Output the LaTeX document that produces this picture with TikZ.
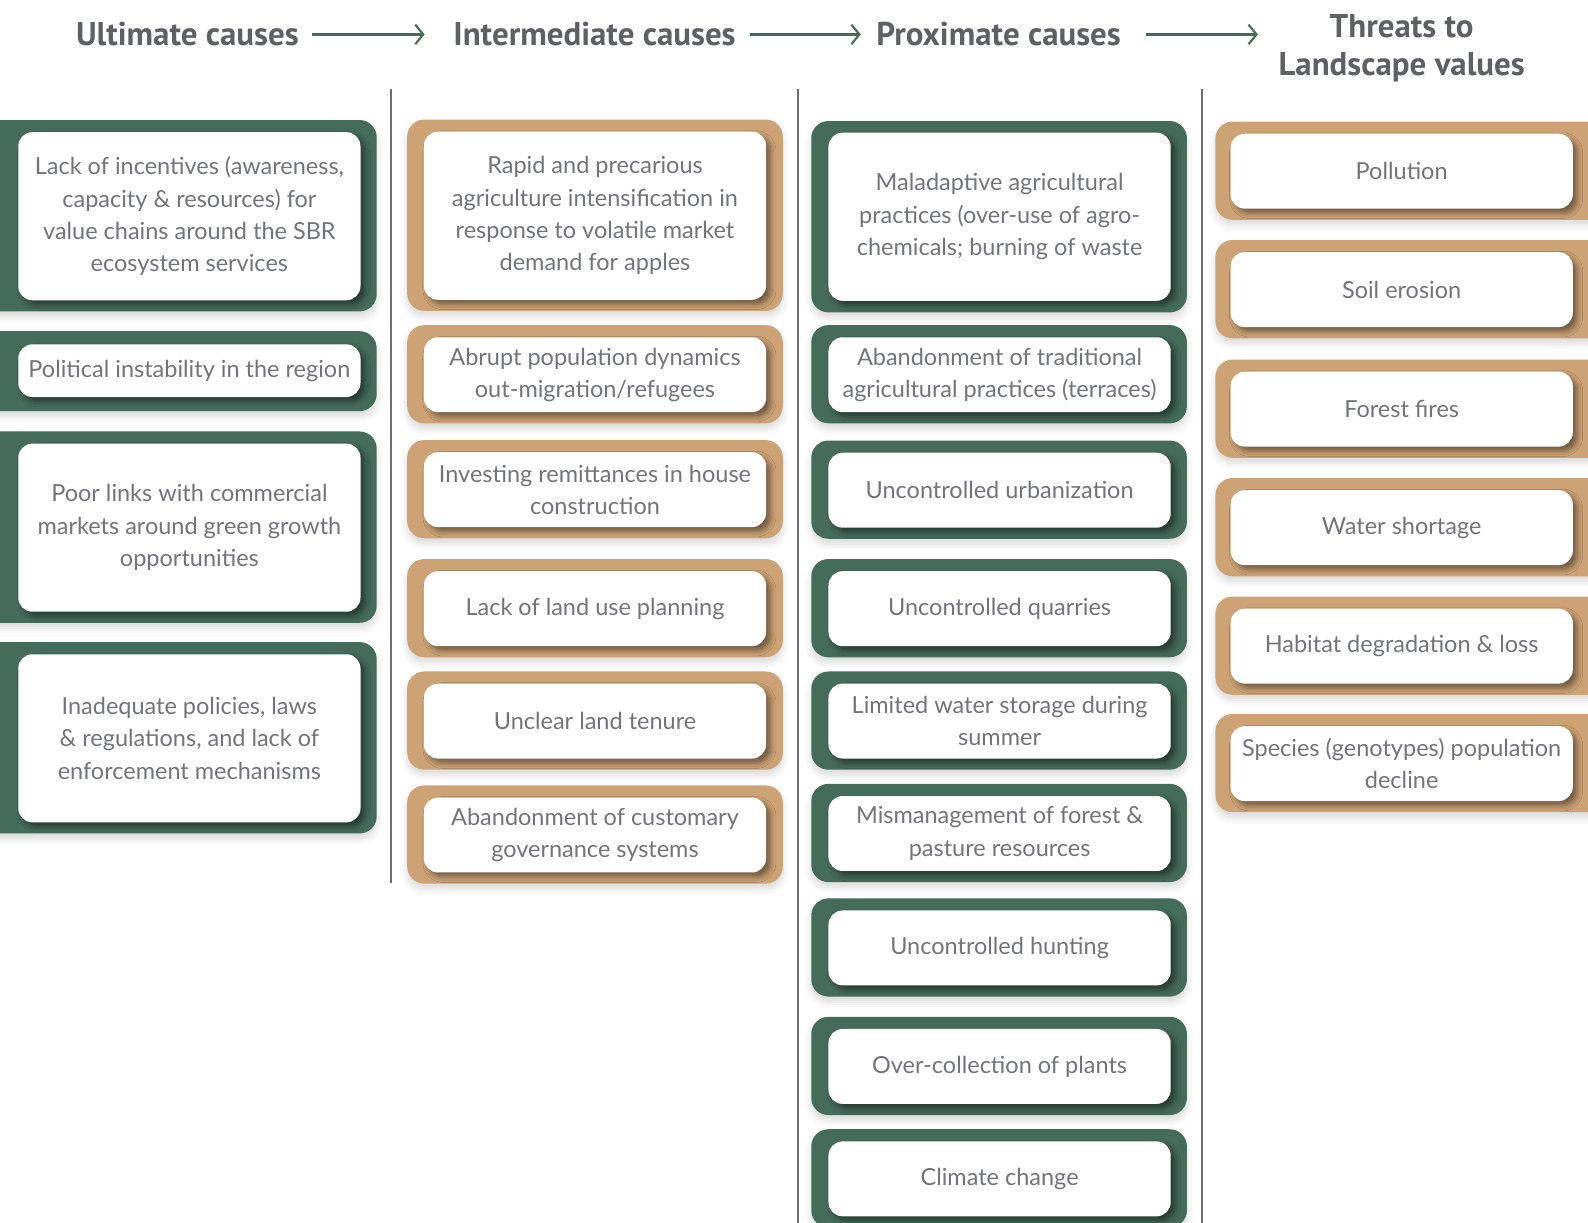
\documentclass[tikz,border=0pt]{standalone}
\usepackage{fontspec}
\setmainfont{Lato}
\newfontfamily\headfont{PT Sans}
\usetikzlibrary{arrows.meta,shadows.blur}

\definecolor{framegreen}{HTML}{456B5B}
\definecolor{frametan}{HTML}{CDA375}
\definecolor{textgray}{HTML}{737477}
\definecolor{headgray}{HTML}{5F6063}
\definecolor{rulegray}{HTML}{6E6E6E}

\tikzset{
  band/.style={rounded corners=0.34cm, inner sep=0pt, minimum width=7.42cm,
    blur shadow={shadow xshift=0pt, shadow yshift=-3pt, shadow opacity=15, shadow blur radius=4pt}},
  gband/.style={band, fill=framegreen},
  tband/.style={band, fill=frametan},
  tallband/.style={minimum height=3.78cm},
  lowband/.style={minimum height=1.94cm},
  card/.style={fill=white, rounded corners=0.28cm, inner sep=0pt, minimum width=6.76cm,
    align=center, text=textgray, font=\fontsize{13.2}{18.2}\selectfont,
    blur shadow={shadow xshift=2.5pt, shadow yshift=-2.5pt, shadow opacity=45, shadow blur radius=3pt}},
  tallcard/.style={minimum height=3.32cm},
  lowcard/.style={minimum height=1.48cm},
  headline/.style={text=headgray, font=\headfont\bfseries\fontsize{18.5}{21.5}\selectfont,
    align=center, inner sep=0pt},
  flow/.style={draw=framegreen, line width=1.2pt,
    -{Straight Barb[length=4.5pt,width=11pt,line width=1.2pt]}},
  divider/.style={draw=rulegray, line width=1.1pt}
}

\begin{document}
\begin{tikzpicture}[x=0.02cm,y=-0.02cm]
  \useasboundingbox (0,0) rectangle (1568,1207);

  % headings
  \node[headline] (hu) at (185,34) {Ultimate causes};
  \node[headline] (hi) at (587,34) {Intermediate causes};
  \node[headline] (hp) at (986,34) {Proximate causes};
  \node[headline] (ht) at (1384,48) {Threats to\\Landscape values};
  \draw[flow, shorten <=0.26cm, shorten >=0.56cm] (hu) -- (hi);
  \draw[flow, shorten <=0.28cm, shorten >=0.3cm] (hi) -- (hp);
  \draw[flow, shorten <=0.5cm, shorten >=0.4cm] (hp.east) -- (hp.east -| ht.west);

  % column rules
  \draw[divider] (386,88) -- (386,872);
  \draw[divider] (788,88) -- (788,1210);
  \draw[divider] (1187,88) -- (1187,1210);

  % ultimate causes
  \node[gband, tallband, minimum width=7.84cm] (u1f) at (176,213) {};
  \node[card, tallcard] (u1) at (187,213.5) {Lack of incentives (awareness,\\capacity \& resources) for\\value chains around the SBR\\ecosystem services};
  \node[gband, minimum height=1.58cm, minimum width=7.84cm] (u2f) at (176,366.5) {};
  \node[card, minimum height=1.04cm] (u2) at (187,366) {Political instability in the region};
  \node[gband, tallband, minimum width=7.84cm] (u3f) at (176,520.5) {};
  \node[card, tallcard] (u3) at (187,521) {Poor links with commercial\\markets around green growth\\opportunities};
  \node[gband, tallband, minimum width=7.84cm] (u4f) at (176,728.5) {};
  \node[card, tallcard] (u4) at (187,729) {Inadequate policies, laws\\\& regulations, and lack of\\enforcement mechanisms};

  % intermediate causes
  \node[tband, tallband] (i1f) at (587.5,212.5) {};
  \node[card, tallcard] (i1) at (587.5,213) {Rapid and precarious\\agriculture intensification in\\response to volatile market\\demand for apples};
  \node[tband, lowband] (i2f) at (587.5,369.5) {};
  \node[card, lowcard] (i2) at (587.5,370) {Abrupt population dynamics\\out-migration/refugees};
  \node[tband, lowband] (i3f) at (587.5,483) {};
  \node[card, lowcard] (i3) at (587.5,483.5) {Investing remittances in house\\construction};
  \node[tband, lowband] (i4f) at (587.5,600.5) {};
  \node[card, lowcard] (i4) at (587.5,601) {Lack of land use planning};
  \node[tband, lowband] (i5f) at (587.5,711.5) {};
  \node[card, lowcard] (i5) at (587.5,712) {Unclear land tenure};
  \node[tband, lowband] (i6f) at (587.5,824) {};
  \node[card, lowcard] (i6) at (587.5,824.5) {Abandonment of customary\\governance systems};

  % proximate causes
  \node[gband, tallband] (p1f) at (986.5,214) {};
  \node[card, tallcard] (p1) at (987,214) {Maladaptive agricultural\\practices (over-use of agro-\\chemicals; burning of waste};
  \node[gband, lowband] (p2f) at (986.5,369.5) {};
  \node[card, lowcard] (p2) at (987,370) {Abandonment of traditional\\agricultural practices (terraces)};
  \node[gband, lowband] (p3f) at (986.5,483.5) {};
  \node[card, lowcard] (p3) at (987,484) {Uncontrolled urbanization};
  \node[gband, lowband] (p4f) at (986.5,600.5) {};
  \node[card, lowcard] (p4) at (987,601) {Uncontrolled quarries};
  \node[gband, lowband] (p5f) at (986.5,711.5) {};
  \node[card, lowcard] (p5) at (987,712) {Limited water storage during\\summer};
  \node[gband, lowband] (p6f) at (986.5,822.5) {};
  \node[card, lowcard] (p6) at (987,823) {Mismanagement of forest \&\\pasture resources};
  \node[gband, lowband] (p7f) at (986.5,935.5) {};
  \node[card, lowcard] (p7) at (987,936) {Uncontrolled hunting};
  \node[gband, lowband] (p8f) at (986.5,1052.5) {};
  \node[card, lowcard] (p8) at (987,1053) {Over-collection of plants};
  \node[gband, lowband] (p9f) at (986.5,1163.5) {};
  \node[card, lowcard] (p9) at (987,1164) {Climate change};

  % threats to landscape values
  \node[tband, lowband, minimum width=7.8cm] (t1f) at (1395,168.5) {};
  \node[card, lowcard] (t1) at (1384,169) {Pollution};
  \node[tband, lowband, minimum width=7.8cm] (t2f) at (1395,285.5) {};
  \node[card, lowcard] (t2) at (1384,286) {Soil erosion};
  \node[tband, lowband, minimum width=7.8cm] (t3f) at (1395,403.5) {};
  \node[card, lowcard] (t3) at (1384,404) {Forest fires};
  \node[tband, lowband, minimum width=7.8cm] (t4f) at (1395,520.5) {};
  \node[card, lowcard] (t4) at (1384,521) {Water shortage};
  \node[tband, lowband, minimum width=7.8cm] (t5f) at (1395,637.5) {};
  \node[card, lowcard] (t5) at (1384,638) {Habitat degradation \& loss};
  \node[tband, lowband, minimum width=7.8cm] (t6f) at (1395,753.5) {};
  \node[card, lowcard] (t6) at (1384,754) {Species (genotypes) population\\decline};
\end{tikzpicture}
\end{document}
